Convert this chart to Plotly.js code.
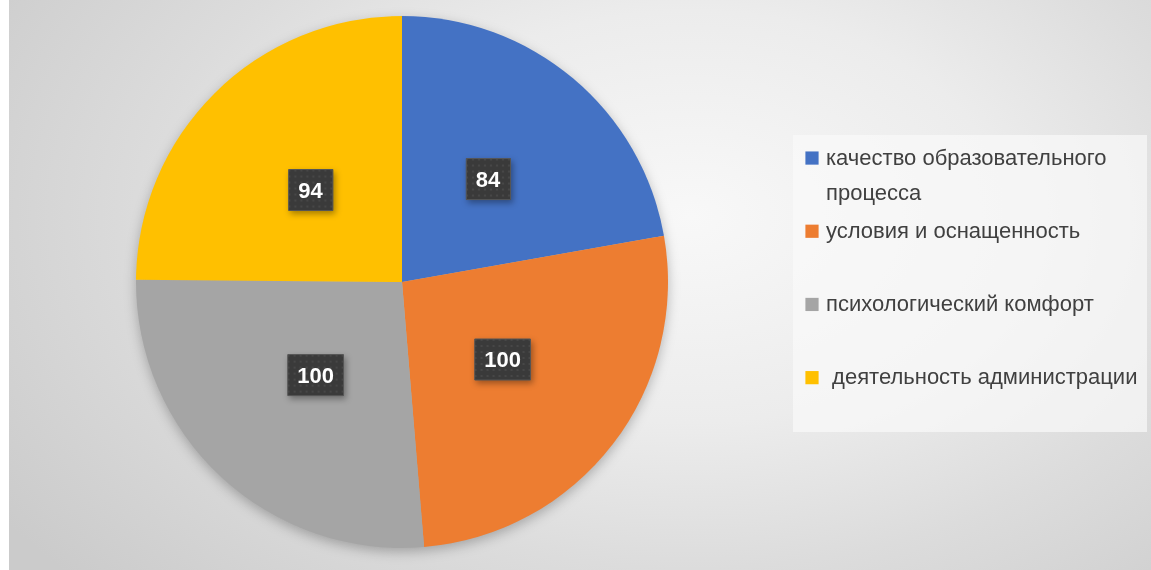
<!DOCTYPE html>
<html><head><meta charset="utf-8">
<script src="https://cdn.plot.ly/plotly-3.0.1.min.js"></script>
<style>
html,body{margin:0;padding:0;background:#fff;}
#chart{width:1151px;height:570px;
 background: linear-gradient(to right,#ffffff 0,#ffffff 9px,rgba(255,255,255,0) 9px),
   radial-gradient(ellipse 72% 95% at 60% 38%, #f8f8f8 0%, #ececec 38%, #dcdcdc 65%, #cbcbcb 100%);}
#chart .pielayer{filter: drop-shadow(0px 4px 6px rgba(0,0,0,0.25));}
</style></head><body><div id="chart"></div>
<script>
const categories = ["качество образовательного процесса", "условия и оснащенность", "психологический комфорт", "деятельность администрации"];
const values = [84, 100, 100, 94];
const colors = ["#4472C4", "#ED7D31", "#A5A5A5", "#FFC000"];
// legend display text (line wrapping / spacing as in the original legend)
const legendLines = [["качество образовательного", "процесса"], ["условия и оснащенность", " "], ["психологический комфорт", " "], ["\u00a0деятельность администрации"]];
const legendText = legendLines.map(lines => lines.map(s => '<span style="font-size:22px">' + s + '</span>').join('<br>'));

const W = 1151, H = 570;
const data = [{
  type: 'pie',
  labels: legendText,
  customdata: categories,
  values: values,
  marker: {colors: colors, line: {width: 0}},
  sort: false,
  direction: 'clockwise',
  rotation: 0,
  textinfo: 'value',
  textposition: 'inside',
  insidetextorientation: 'horizontal',
  textfont: {family: 'Liberation Sans, Arial, sans-serif', size: 22, color: '#ffffff', weight: 'bold'},
  hoverinfo: 'none',
  domain: {x: [136 / W, 668 / W], y: [1 - 548 / H, 1 - 16 / H]}
}];
const layout = {
  width: W, height: H,
  margin: {l: 0, r: 0, t: 0, b: 0},
  paper_bgcolor: 'rgba(0,0,0,0)',
  plot_bgcolor: 'rgba(0,0,0,0)',
  showlegend: true,
  legend: {
    x: 786 / W, xanchor: 'left',
    y: 1 - 130 / H, yanchor: 'top',
    valign: 'top',
    bgcolor: 'rgba(0,0,0,0)',
    font: {family: 'Liberation Sans, Arial, sans-serif', size: 27, color: '#404040'},
    traceorder: 'normal'
  },
  shapes: [{
    type: 'rect', xref: 'paper', yref: 'paper',
    x0: 793 / W, x1: 1147 / W, y0: 1 - 432 / H, y1: 1 - 135 / H,
    fillcolor: 'rgba(250,250,250,0.7)', line: {width: 0}, layer: 'below'
  }]
};
Plotly.newPlot('chart', data, layout, {staticPlot: true, displayModeBar: false}).then(gd => {
  const NS = 'http://www.w3.org/2000/svg';
  const svg = gd.querySelector('.main-svg');
  // dotted dark texture for the value boxes
  const defs = document.createElementNS(NS, 'defs');
  defs.innerHTML = '<pattern id="lblpat" width="6" height="6" patternUnits="userSpaceOnUse">' +
    '<rect width="6" height="6" fill="#3a3a3a"/><circle cx="3" cy="3" r="1.1" fill="#4a4a4a"/></pattern>';
  svg.insertBefore(defs, svg.firstChild);
  const cd0 = gd.calcdata[0][0];
  const svgRect = svg.getBoundingClientRect();
  const pull = 0.83; // Excel-style label placement, a bit nearer the centre
  gd.querySelectorAll('.pielayer .slice').forEach(slice => {
    const t = slice.querySelector('text.slicetext');
    if (!t) return;
    const bb = t.getBBox();
    const padX = 9.5, padY = 8;
    const r = document.createElementNS(NS, 'rect');
    r.setAttribute('x', bb.x - padX);
    r.setAttribute('y', bb.y - padY);
    r.setAttribute('width', bb.width + 2 * padX);
    r.setAttribute('height', bb.height + 2 * padY);
    r.setAttribute('fill', 'url(#lblpat)');
    r.setAttribute('stroke', '#555555');
    r.setAttribute('stroke-width', '1');
    r.setAttribute('style', 'filter: drop-shadow(2px 3px 3px rgba(0,0,0,0.35))');
    const tr = t.getAttribute('transform');
    if (tr) r.setAttribute('transform', tr);
    const parent = t.parentNode;
    parent.insertBefore(r, t);
    const br = t.getBoundingClientRect();
    const tx = br.left + br.width / 2 - svgRect.left;
    const ty = br.top + br.height / 2 - svgRect.top;
    const dx = (pull - 1) * (tx - cd0.cx);
    const dy = (pull - 1) * (ty - cd0.cy);
    const wrap = document.createElementNS(NS, 'g');
    wrap.setAttribute('transform', 'translate(' + dx + ',' + dy + ')');
    parent.insertBefore(wrap, r);
    wrap.appendChild(r);
    wrap.appendChild(t);
  });
  // nudge legend swatches to line up with the first text line
  gd.querySelectorAll('.legend .legendsymbols').forEach(s => {
    const old = s.getAttribute('transform') || '';
    s.setAttribute('transform', 'translate(6,4) ' + old);
    const p = s.querySelector('path');
    if (p) { const o = p.getAttribute('transform') || ''; p.setAttribute('transform', o + ' scale(1.1)'); }
  });
});
</script>
</body></html>
